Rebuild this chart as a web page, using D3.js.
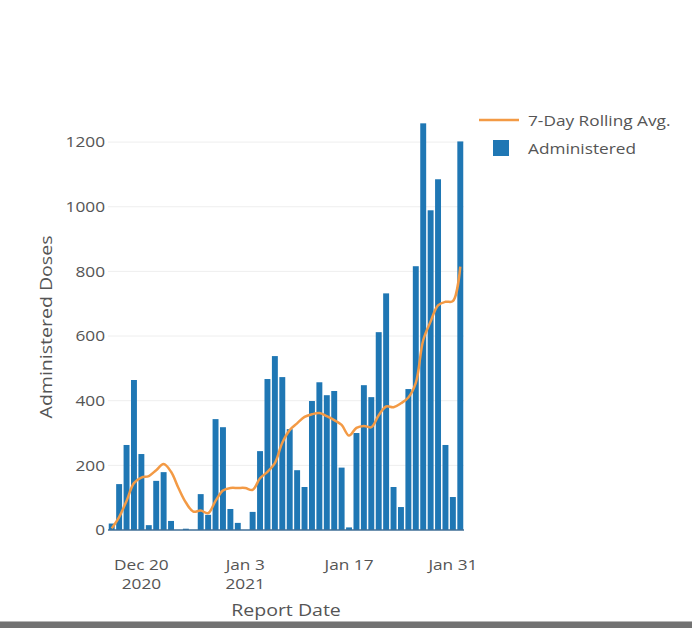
<!DOCTYPE html>
<html>
<head>
<meta charset="utf-8">
<script src="https://cdn.jsdelivr.net/npm/d3@7"></script>
<style>
  html, body { margin: 0; padding: 0; background: #fff; }
  svg { display: block; font-family: "Open Sans", sans-serif; }
</style>
</head>
<body>
<div id="chart"></div>
<script>
// daily report dates, Dec 16 2020 .. Feb 1 2021
const dates = [
  '2020-12-16', '2020-12-17', '2020-12-18', '2020-12-19', '2020-12-20', '2020-12-21',
  '2020-12-22', '2020-12-23', '2020-12-24', '2020-12-25', '2020-12-26', '2020-12-27',
  '2020-12-28', '2020-12-29', '2020-12-30', '2020-12-31', '2021-01-01', '2021-01-02',
  '2021-01-03', '2021-01-04', '2021-01-05', '2021-01-06', '2021-01-07', '2021-01-08',
  '2021-01-09', '2021-01-10', '2021-01-11', '2021-01-12', '2021-01-13', '2021-01-14',
  '2021-01-15', '2021-01-16', '2021-01-17', '2021-01-18', '2021-01-19', '2021-01-20',
  '2021-01-21', '2021-01-22', '2021-01-23', '2021-01-24', '2021-01-25', '2021-01-26',
  '2021-01-27', '2021-01-28', '2021-01-29', '2021-01-30', '2021-01-31', '2021-02-01'
]

const administered = [
  20, 142, 263, 464, 235, 15,
  152, 179, 28, 0, 4, 0,
  111, 47, 343, 318, 65, 22,
  0, 56, 244, 467, 538, 473,
  312, 185, 133, 399, 457, 417,
  430, 193, 8, 300, 448, 411,
  612, 732, 133, 71, 436, 816,
  1258, 989, 1085, 263, 102, 1202
]

const rollingAvg = [
  5, 40, 90, 145, 162, 167,
  185, 204, 180, 130, 85, 57,
  60, 52, 90, 122, 130, 130,
  130, 124, 160, 180, 207, 270,
  309, 330, 350, 358, 362, 352,
  340, 325, 292, 316, 322, 318,
  355, 382, 380, 392, 410, 455,
  587, 645, 695, 706, 708, 815
]

const yTicks = [0, 200, 400, 600, 800, 1000, 1200]
const xTicks = [
  {date: '2020-12-20', lines: ['Dec 20', '2020']},
  {date: '2021-01-03', lines: ['Jan 3', '2021']},
  {date: '2021-01-17', lines: ['Jan 17']},
  {date: '2021-01-31', lines: ['Jan 31']}
]

const width = 692
const height = 628
const plot = {left: 108, right: 464, top: 102, bottom: 530}
const barColor = '#1f77b4'
const lineColor = '#f39a45'
const textColor = '#555'
// the capture's lettering runs a bit wider than Open Sans
const stretch = 1.15

const parse = d3.utcParse('%Y-%m-%d')
const day = 24 * 3600 * 1000
const rows = dates.map((d, i) => ({
  date: parse(d),
  value: administered[i],
  avg: rollingAvg[i]
}))

const svg = d3.select('#chart')
  .append('svg')
  .attr('width', width)
  .attr('height', height)

const x = d3.scaleUtc()
  .domain([
    new Date(rows[0].date.getTime() - day / 2),
    new Date(rows[rows.length - 1].date.getTime() + day / 2)
  ])
  .range([plot.left, plot.right])

const y = d3.scaleLinear()
  .domain([0, 1324])
  .range([plot.bottom, plot.top])

// gridlines
svg.append('g')
  .selectAll('line')
  .data(yTicks.filter((t) => t > 0))
  .enter()
  .append('line')
  .attr('x1', plot.left)
  .attr('x2', plot.right)
  .attr('y1', (d) => y(d))
  .attr('y2', (d) => y(d))
  .attr('stroke', '#eeeeee')
  .attr('stroke-width', 1)

// y axis labels
const yAxis = svg.append('g')
  .attr('transform', `translate(${plot.left - 3},0)`)
  .call(d3.axisLeft(y).tickValues(yTicks).tickSize(0).tickPadding(0).tickFormat(d3.format('d')))
yAxis.select('.domain').remove()
yAxis.selectAll('text')
  .attr('x', 0)
  .attr('transform', `scale(${stretch},1)`)
  .attr('fill', textColor)
  .attr('font-size', 15)
  .attr('font-family', '"Open Sans", sans-serif')

// bars
const step = x(rows[1].date) - x(rows[0].date)
const barW = step * 0.8
svg.append('g')
  .selectAll('rect')
  .data(rows)
  .enter()
  .append('rect')
  .attr('x', (d) => x(d.date) - barW / 2)
  .attr('width', barW)
  .attr('y', (d) => y(d.value))
  .attr('height', (d) => y(0) - y(d.value))
  .attr('fill', barColor)

// zero line
svg.append('line')
  .attr('x1', plot.left)
  .attr('x2', plot.right)
  .attr('y1', y(0))
  .attr('y2', y(0))
  .attr('stroke', '#3f6e96')
  .attr('stroke-width', 1.5)

// rolling average
const line = d3.line()
  .x((d) => x(d.date))
  .y((d) => y(d.avg))
  .curve(d3.curveCatmullRom.alpha(0.5))

svg.append('path')
  .datum(rows)
  .attr('d', line)
  .attr('fill', 'none')
  .attr('stroke', lineColor)
  .attr('stroke-width', 2.5)
  .attr('stroke-linejoin', 'round')

// x axis labels
const xg = svg.append('g')
  .selectAll('text')
  .data(xTicks)
  .enter()
  .append('text')
  .attr('text-anchor', 'middle')
  .attr('fill', textColor)
  .attr('font-size', 15)
  .attr('transform', (d) => `translate(${x(parse(d.date))},570) scale(${stretch},1)`)
xg.selectAll('tspan')
  .data((d) => d.lines)
  .enter()
  .append('tspan')
  .attr('x', 0)
  .attr('dy', (d, i) => (i === 0 ? 0 : 19))
  .text((d) => d)

// axis titles
svg.append('text')
  .attr('transform', `translate(${(plot.left + plot.right) / 2},616) scale(${stretch},1)`)
  .attr('text-anchor', 'middle')
  .attr('font-size', 17)
  .attr('fill', textColor)
  .text('Report Date')

svg.append('text')
  .attr('transform', `translate(52,${(plot.top + plot.bottom) / 2 + 11}) rotate(-90) scale(${stretch},1)`)
  .attr('text-anchor', 'middle')
  .attr('font-size', 17)
  .attr('fill', textColor)
  .text('Administered Doses')

// legend
const legend = svg.append('g').attr('transform', 'translate(479,0)')
legend.append('line')
  .attr('x1', 0).attr('x2', 40)
  .attr('y1', 120).attr('y2', 120)
  .attr('stroke', lineColor)
  .attr('stroke-width', 2.5)
legend.append('text')
  .attr('transform', `translate(49,126) scale(${stretch},1)`)
  .attr('font-size', 15)
  .attr('fill', textColor)
  .text('7-Day Rolling Avg.')
legend.append('rect')
  .attr('x', 14).attr('y', 140)
  .attr('width', 16).attr('height', 16)
  .attr('fill', barColor)
legend.append('text')
  .attr('transform', `translate(49,154) scale(${stretch},1)`)
  .attr('font-size', 15)
  .attr('fill', textColor)
  .text('Administered')

// grey strip along the bottom edge of the capture
svg.append('rect')
  .attr('x', 0).attr('y', 621)
  .attr('width', width).attr('height', 7)
  .attr('fill', '#727272')
svg.append('line')
  .attr('x1', 0).attr('x2', width)
  .attr('y1', 621.5).attr('y2', 621.5)
  .attr('stroke', '#b5b5b5')
</script>
</body>
</html>
